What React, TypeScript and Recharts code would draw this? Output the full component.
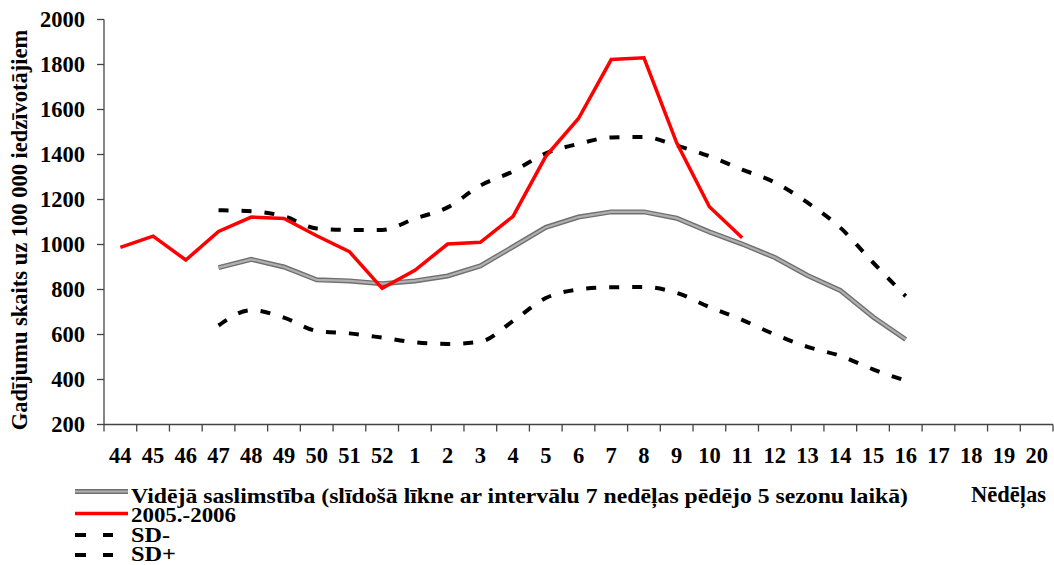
import React from 'react';
import { LineChart, Line, XAxis, YAxis } from 'recharts';

const weeks = [
  '44', '45', '46', '47', '48', '49', '50', '51', '52',
  '1', '2', '3', '4', '5', '6', '7', '8', '9', '10',
  '11', '12', '13', '14', '15', '16', '17', '18', '19', '20',
];

// 2005.-2006 sezona (44. - 11. nedēļa)
const season = [
  987, 1037, 931, 1058, 1122, 1116, 1039, 968, 805,
  885, 1002, 1010, 1125, 1392, 1560, 1822, 1830, 1452, 1168, 1030,
];

// vidējā saslimstība, no 47. līdz 16. nedēļai
const average = [
  897, 934, 900, 843, 838, 826, 838, 860, 905, 990, 1076,
  1122, 1145, 1145, 1117, 1056, 1002, 942, 862, 796, 678, 578,
];

const sdPlus = [
  1152, 1148, 1125, 1071, 1065, 1065, 1115, 1165, 1262, 1325, 1405,
  1447, 1476, 1478, 1440, 1392, 1333, 1276, 1186, 1075, 920, 770,
];

const sdMinus = [
  640, 708, 675, 616, 605, 586, 565, 558, 568, 660, 762,
  800, 810, 811, 785, 722, 665, 600, 545, 505, 445, 395,
];

const yTicks = [200, 400, 600, 800, 1000, 1200, 1400, 1600, 1800, 2000];

const data = weeks.map((w, i) => ({
  week: w,
  season: i < season.length ? season[i] : null,
  average: i >= 3 && i - 3 < average.length ? average[i - 3] : null,
  sdPlus: i >= 3 && i - 3 < sdPlus.length ? sdPlus[i - 3] : null,
  sdMinus: i >= 3 && i - 3 < sdMinus.length ? sdMinus[i - 3] : null,
}));

const W = 1054;
const H = 565;
const PLOT_LEFT = 104;
const PLOT_RIGHT = 1053;
const BAND = (PLOT_RIGHT - PLOT_LEFT) / weeks.length;
const FONT = '"Liberation Serif", "Times New Roman", serif';
const AXIS = '#444';

const WeekTick = (props: any) => {
  const { x, y, payload, index } = props;
  const left = x - BAND / 2;
  return (
    <g>
      <line x1={left} x2={left} y1={y} y2={y + 7} stroke={AXIS} strokeWidth={1.3} />
      {index === weeks.length - 1 && (
        <line x1={x + BAND / 2} x2={x + BAND / 2} y1={y} y2={y + 7} stroke={AXIS} strokeWidth={1.3} />
      )}
      <text x={x} y={y + 38.5} textAnchor="middle" fontFamily={FONT} fontWeight="bold" fontSize={22.5} fill="#000">
        {payload.value}
      </text>
    </g>
  );
};

export default function App() {
  return (
    <div style={{ position: 'absolute', left: 0, top: 0, width: W, height: H, background: '#fff' }}>
      <LineChart
        width={W}
        height={H}
        data={data}
        margin={{ top: 19.5, right: W - PLOT_RIGHT, left: PLOT_LEFT - 60, bottom: 100 }}
      >
        <XAxis
          dataKey="week"
          height={40.5}
          interval={0}
          tickSize={0}
          tickMargin={0}
          padding={{ left: BAND / 2, right: BAND / 2 }}
          tick={<WeekTick />}
          axisLine={{ stroke: AXIS, strokeWidth: 1.3 }}
        />
        <YAxis
          width={60}
          domain={[200, 2000]}
          ticks={yTicks}
          interval={0}
          tickSize={7}
          tickMargin={12}
          axisLine={{ stroke: AXIS, strokeWidth: 1.3 }}
          tickLine={{ stroke: AXIS, strokeWidth: 1.3 }}
          tick={{ fontFamily: FONT, fontWeight: 'bold', fontSize: 22.5, fill: '#000' }}
        />
        <Line dataKey="sdPlus" type="monotone" stroke="#000" strokeWidth={4} strokeDasharray="10 13" dot={false} isAnimationActive={false} />
        <Line dataKey="sdMinus" type="monotone" stroke="#000" strokeWidth={4} strokeDasharray="10 13" dot={false} isAnimationActive={false} />
        <Line dataKey="average" type="linear" stroke="#707070" strokeWidth={5} dot={false} isAnimationActive={false} />
        <Line dataKey="average" type="linear" stroke="#b0b0b0" strokeWidth={2.2} dot={false} isAnimationActive={false} />
        <Line dataKey="season" type="linear" stroke="#ff0000" strokeWidth={3.5} dot={false} isAnimationActive={false} />
      </LineChart>
      <svg
        width={W}
        height={H}
        style={{ position: 'absolute', left: 0, top: 0, pointerEvents: 'none' }}
        fontFamily={FONT}
        fontWeight="bold"
        fontSize={21}
      >
        <text transform="translate(27,230) rotate(-90)" textAnchor="middle" fontSize={22.5}>
          Gadījumu skaits uz 100 000 iedzīvotājiem
        </text>
        <line x1={75} x2={128} y1={491.5} y2={491.5} stroke="#707070" strokeWidth={5} />
        <line x1={75} x2={128} y1={491.5} y2={491.5} stroke="#b0b0b0" strokeWidth={2.2} />
        <text x={131} y={503} textLength={777} lengthAdjust="spacingAndGlyphs">
          Vidējā saslimstība (slīdošā līkne ar intervālu 7 nedēļas pēdējo 5 sezonu laikā)
        </text>
        <line x1={75} x2={128} y1={513.5} y2={513.5} stroke="#ff0000" strokeWidth={3.5} />
        <text x={131} y={522} textLength={105} lengthAdjust="spacingAndGlyphs">2005.-2006</text>
        <line x1={75} x2={113} y1={535} y2={535} stroke="#000" strokeWidth={4} strokeDasharray="11 17" />
        <text x={131} y={542} textLength={39} lengthAdjust="spacingAndGlyphs">SD-</text>
        <line x1={75} x2={113} y1={555} y2={555} stroke="#000" strokeWidth={4} strokeDasharray="11 17" />
        <text x={131} y={561} textLength={45} lengthAdjust="spacingAndGlyphs">SD+</text>
        <text x={1046} y={502} textAnchor="end" fontSize={22.5}>Nēdēļas</text>
      </svg>
    </div>
  );
}
